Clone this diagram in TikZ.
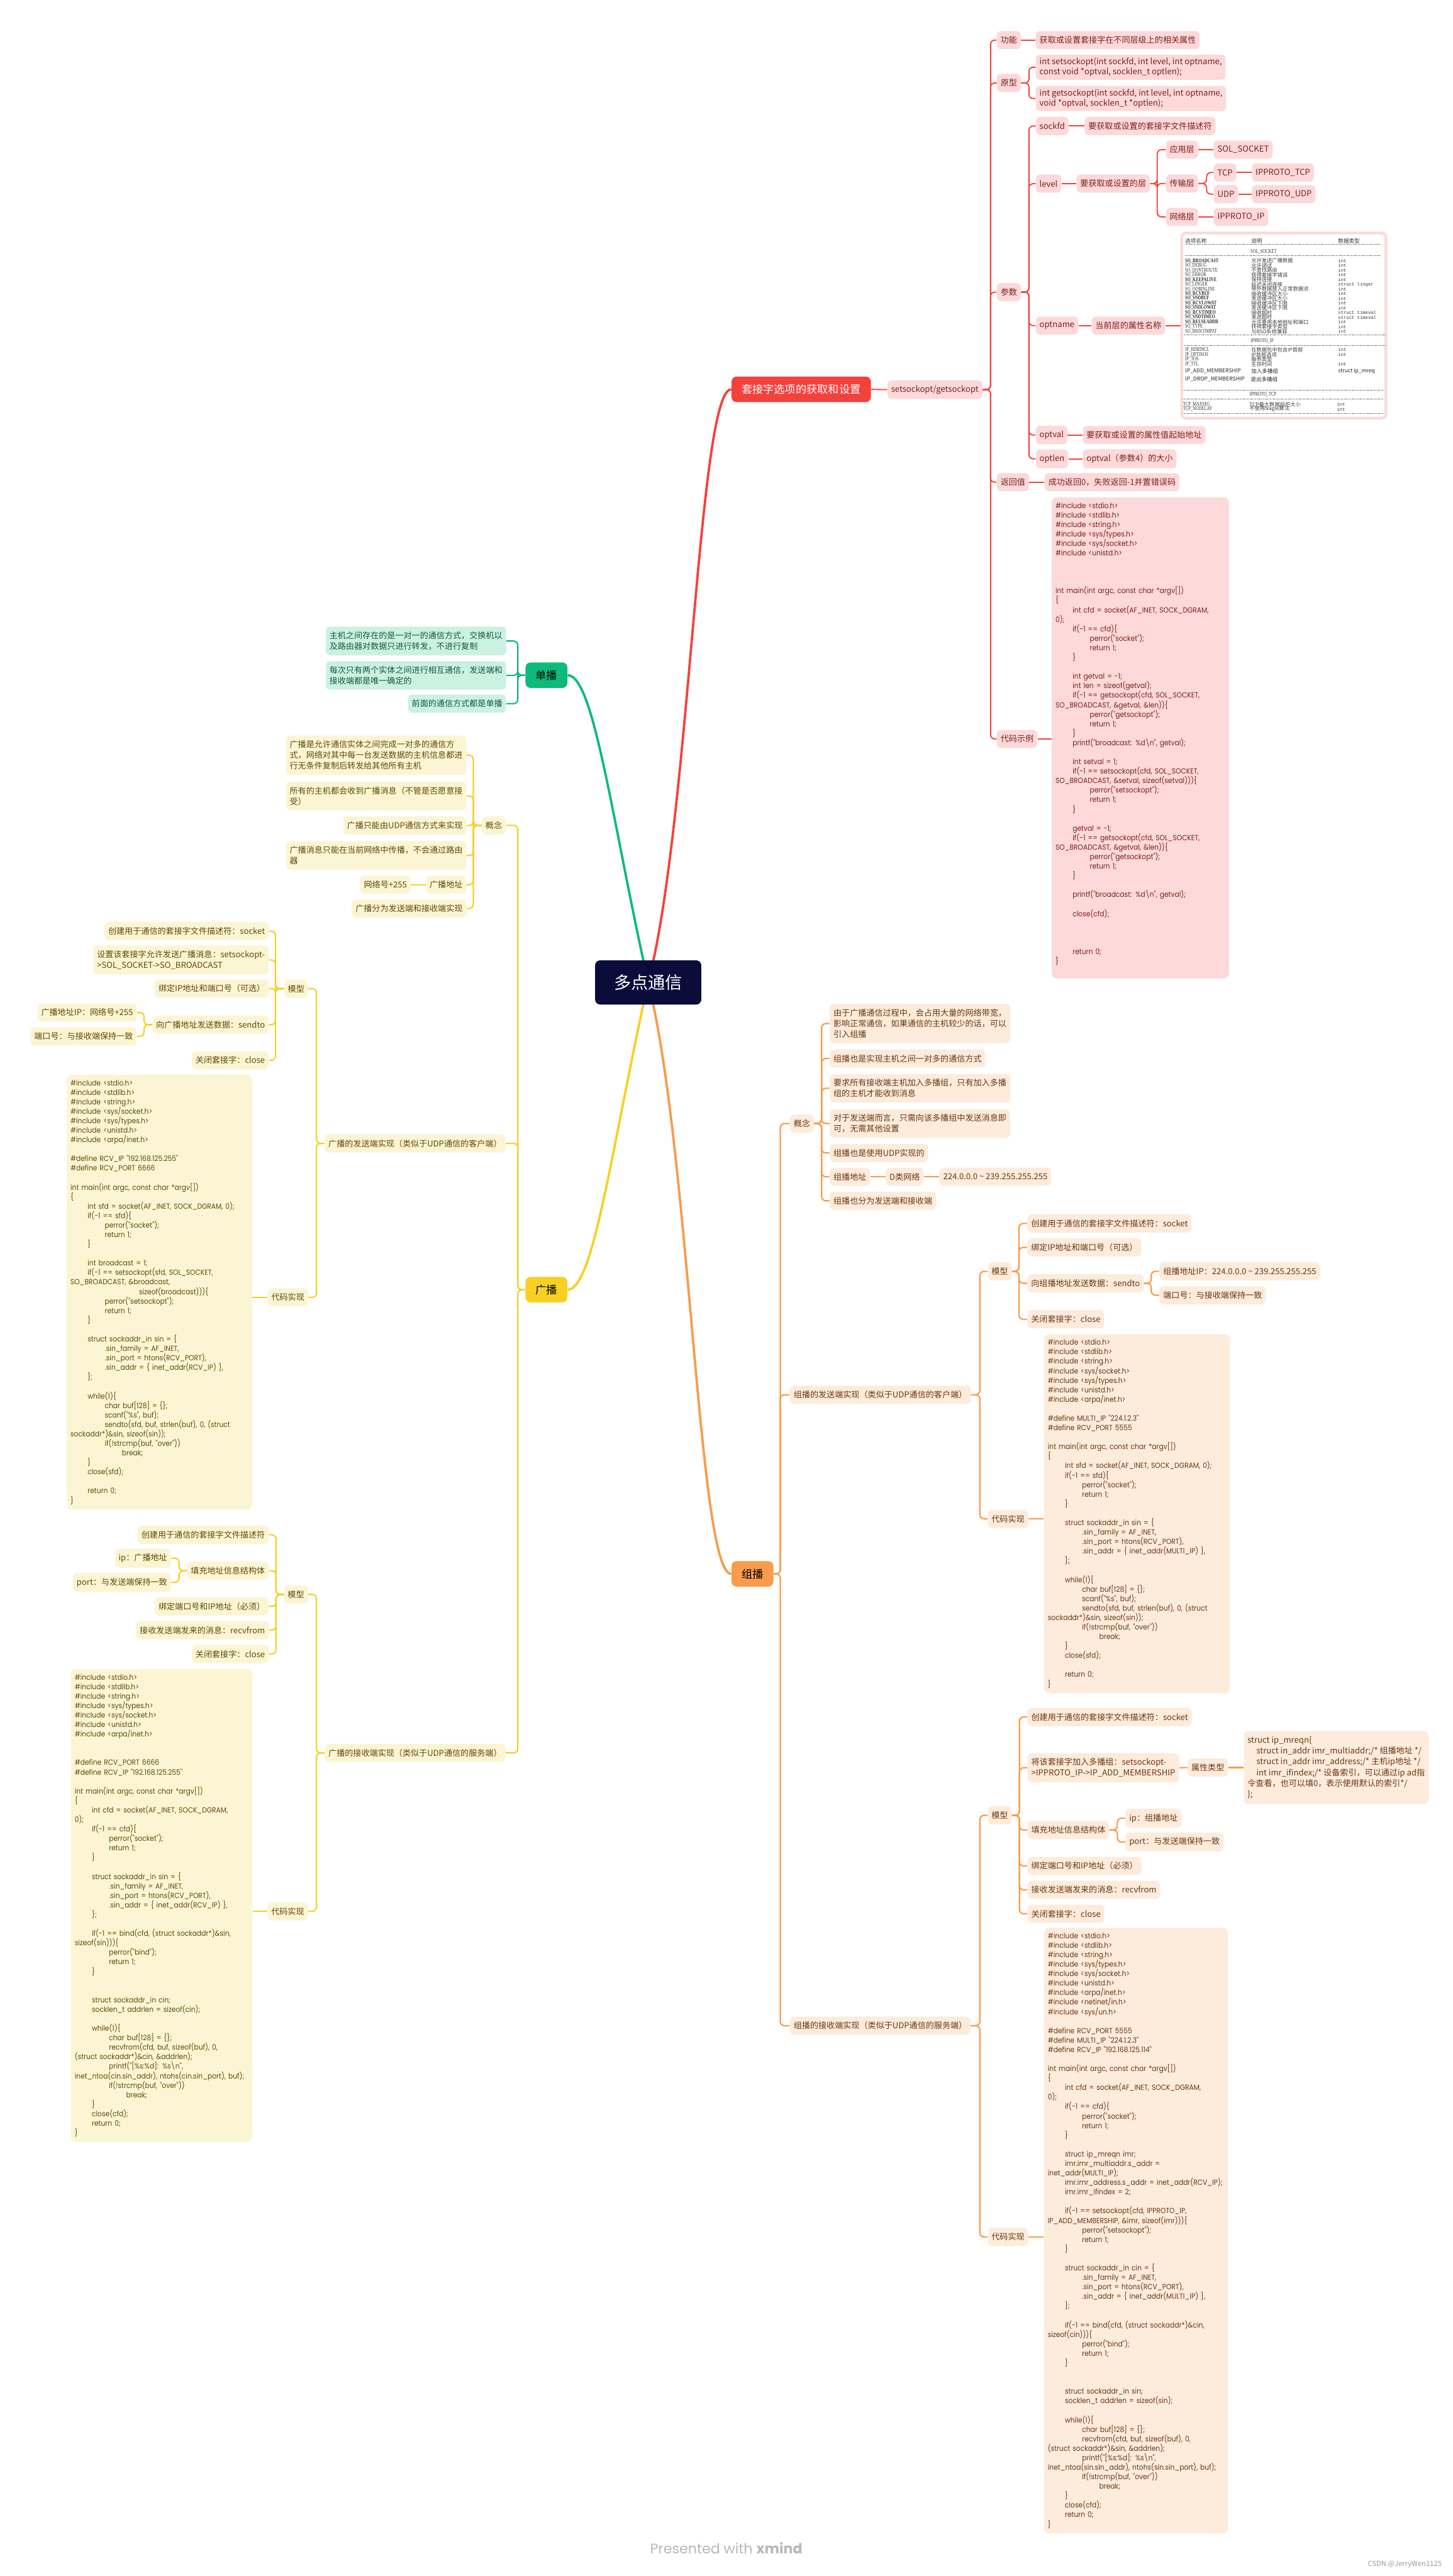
\documentclass[tikz,border=0pt]{standalone}
\usepackage{fontspec}
\setmainfont{Noto Sans CJK SC}
\newfontfamily\codefont{Poppins}[FakeStretch=0.9]
\newfontfamily\creditfont{Poppins}
\newfontfamily\tabserif{Liberation Serif}
\newfontfamily\tabmono{Liberation Mono}
\usepackage{graphicx}
\usepackage{tikz}
\usetikzlibrary{backgrounds}
\definecolor{centerfill}{HTML}{0C0C3A}
\definecolor{redmain}{HTML}{F5413C}
\definecolor{redfill}{HTML}{FDD9D9}
\definecolor{redtext}{HTML}{7A1F1F}
\definecolor{greenmain}{HTML}{0DBA7B}
\definecolor{greenfill}{HTML}{CBF1E2}
\definecolor{greentext}{HTML}{145A3F}
\definecolor{yellowmain}{HTML}{F7D023}
\definecolor{yellowfill}{HTML}{FCF5D3}
\definecolor{yellowtext}{HTML}{5E4A08}
\definecolor{orangemain}{HTML}{F89B4B}
\definecolor{orangefill}{HTML}{FDEBDC}
\definecolor{orangetext}{HTML}{6A3710}

\begin{document}
\begin{tikzpicture}[
    x=0.3437mm, y=-0.3437mm,
    every node/.style={anchor=west},
    centertopic/.style={fill=centerfill, text=white, font=\fontsize{10.2}{12}\selectfont, rounded corners=3pt, inner xsep=11.2pt, minimum height=26.3pt, anchor=center},
    maintopic/.style={font=\fontsize{6.45}{8}\selectfont, rounded corners=3pt, inner xsep=6pt, minimum height=15.2pt},
    leaf/.style={font=\fontsize{4.9}{6.4}\selectfont, rounded corners=2.5pt, inner xsep=2.2pt, inner ysep=3pt, minimum height=10.8pt, align=left},
    redleaf/.style={leaf, fill=redfill, text=redtext},
    greenleaf/.style={leaf, fill=greenfill, text=greentext, anchor=east},
    yellowleaf/.style={leaf, fill=yellowfill, text=yellowtext, anchor=east},
    orangeleaf/.style={leaf, fill=orangefill, text=orangetext},
    codebox/.style={font=\codefont\fontsize{4.45}{5.65}\selectfont, rounded corners=3pt, inner xsep=2.24pt, inner ysep=3pt, align=left, anchor=north west},
    redwire/.style={draw=redmain, line width=0.7pt, rounded corners=2.5pt},
    greenwire/.style={draw=greenmain, line width=0.8pt, rounded corners=2.5pt},
    yellowwire/.style={draw=yellowmain, line width=0.8pt, rounded corners=2.5pt},
    orangewire/.style={draw=orangemain, line width=0.8pt, rounded corners=2.5pt},
    mainwire/.style={line width=1.4pt},
    tabhead/.style={inner sep=0pt, font=\fontsize{3.2}{3.2}\selectfont, text=black!80},
    tabname/.style={inner sep=0pt, font=\tabserif\fontsize{3.4}{3.4}\selectfont, text=black!80},
    tabdesc/.style={inner sep=0pt, font=\fontsize{3.1}{3.1}\selectfont, text=black!75},
    tabtype/.style={inner sep=0pt, font=\tabmono\fontsize{2.7}{2.7}\selectfont, text=black!80},
    tabsans/.style={inner sep=0pt, font=\fontsize{3.2}{3.2}\selectfont, text=black!85},
    tabeq/.style={draw=black!55, line width=0.15pt, double, double distance=0.3pt, dash pattern=on 0.6pt off 0.3pt},
    tabdash/.style={draw=black!55, line width=0.2pt, dash pattern=on 0.6pt off 0.3pt}
]

\def\tb{\hspace*{10.2pt}}

\useasboundingbox (0,0) rectangle (884,1568);

% Root
\node[centertopic] (multi) at (394.5,598) {多点通信};

% Main topics
\node[maintopic, fill=redmain, text=white] (sockopt) at (445,237) {套接字选项的获取和设置};
\node[maintopic, fill=greenmain, text=black, anchor=east] (unicast) at (345.5,411) {单播};
\node[maintopic, fill=yellowmain, text=black, anchor=east] (bcast) at (345.5,785) {广播};
\node[maintopic, fill=orangemain, text=black] (mcast) at (445,958) {组播};

% Socket options (red)
\node[redleaf] (setget) at (539.9,237.2) {setsockopt/getsockopt};
\node[redleaf] (func) at (606.5,24.4) {功能};
\node[redleaf] (funcd) at (630.2,24.4) {获取或设置套接字在不同层级上的相关属性};
\node[redleaf] (proto) at (606.5,50.5) {原型};
\node[redleaf, font=\fontsize{4.9}{5.8}\selectfont, inner ysep=2pt] (protoset) at (630.2,40.9) {int setsockopt(int sockfd, int level, int optname,\\const void *optval, socklen\_t optlen);};
\node[redleaf, font=\fontsize{4.9}{5.8}\selectfont, inner ysep=2pt] (protoget) at (630.2,60) {int getsockopt(int sockfd, int level, int optname,\\void *optval, socklen\_t *optlen);};
\node[redleaf] (param) at (606.5,177.8) {参数};
\node[redleaf] (psockfd) at (630.2,76.7) {sockfd};
\node[redleaf] (psockfdd) at (659.9,76.7) {要获取或设置的套接字文件描述符};
\node[redleaf] (plevel) at (630.2,111.8) {level};
\node[redleaf] (pleveld) at (655,111.8) {要获取或设置的层};
\node[redleaf] (lapp) at (709.4,91.1) {应用层};
\node[redleaf] (lappv) at (738.5,91.1) {SOL\_SOCKET};
\node[redleaf] (ltrans) at (709.4,111.7) {传输层};
\node[redleaf] (ltcp) at (738.5,105) {TCP};
\node[redleaf] (ltcpv) at (761.7,105) {IPPROTO\_TCP};
\node[redleaf] (ludp) at (738.5,118.2) {UDP};
\node[redleaf] (ludpv) at (761.7,118.2) {IPPROTO\_UDP};
\node[redleaf] (lnet) at (709.4,132) {网络层};
\node[redleaf] (lnetv) at (738.5,132) {IPPROTO\_IP};
\node[redleaf] (poptname) at (630.2,198.2) {optname};
\node[redleaf] (poptnamed) at (664.2,198.2) {当前层的属性名称};
\node[redleaf] (poptval) at (630.2,264.8) {optval};
\node[redleaf] (poptvald) at (658.8,264.8) {要获取或设置的属性值起始地址};
\node[redleaf] (poptlen) at (630.2,279.3) {optlen};
\node[redleaf] (poptlend) at (658.8,279.3) {optval（参数4）的大小};
\node[redleaf] (ret) at (606.5,293.5) {返回值};
\node[redleaf] (retd) at (635.6,293.5) {成功返回0，失败返回-1并置错误码};
\node[redleaf] (demo) at (606.5,449.8) {代码示例};

% Option table
\node[draw=redfill, line width=1.6pt, fill=white, rounded corners=2.5pt, minimum width=121.5pt, minimum height=110.2pt, inner sep=0pt] (opttab) at (718.4,198.2) {};
\node[tabhead] (thname) at (721.1,146.9) {选项名称};
\node[tabhead] (thdesc) at (761.3,146.9) {说明};
\node[tabhead] (thtype) at (814.2,146.9) {数据类型};
\draw[tabeq] (721.1,148.9) -- (840.4,148.9);
\node[tabname] (thsol) at (760.9,153) {\scalebox{.72}[1]{SOL\_SOCKET}};
\draw[tabdash] (721.1,155.4) -- (840.4,155.4);
\foreach \nm/\ds/\ty [count=\i from 0] in {
    {\bfseries SO\_BROADCAST}/允许发送广播数据/int,
    SO\_DEBUG/允许调试/int,
    SO\_DONTROUTE/不查找路由/int,
    SO\_ERROR/获得套接字错误/int,
    {\bfseries SO\_KEEPALIVE}/保持连接/int,
    SO\_LINGER/延迟关闭连接/struct linger,
    SO\_OOBINLINE/带外数据放入正常数据流/int,
    {\bfseries SO\_RCVBUF}/接收缓冲区大小/int,
    {\bfseries SO\_SNDBUF}/发送缓冲区大小/int,
    {\bfseries SO\_RCVLOWAT}/接收缓冲区下限/int,
    {\bfseries SO\_SNDLOWAT}/发送缓冲区下限/int,
    {\bfseries SO\_RCVTIMEO}/接收超时/struct timeval,
    {\bfseries SO\_SNDTIMEO}/发送超时/struct timeval,
    {\bfseries SO\_REUSEADDR}/允许重用本地地址和端口/int,
    SO\_TYPE/获得套接字类型/int,
    SO\_BSDCOMPAT/与BSD系统兼容/int}
{
    \node[tabname] (soln\i) at (721.1,158.8+2.86*\i) {\scalebox{.72}[1]{\nm}};
    \node[tabdesc] (sold\i) at (761.3,158.8+2.86*\i) {\ds};
    \node[tabtype] (solt\i) at (814.2,158.8+2.86*\i) {\ty};
}
\draw[tabeq] (720.5,204) -- (843,204);
\node[tabname] (thip) at (761,207.4) {\scalebox{.72}[1]{IPPROTO\_IP}};
\draw[tabdash] (720.5,210.2) -- (843,210.2);
\foreach \nm/\ds/\ty [count=\i from 0] in {
    IP\_HDRINCL/在数据包中包含IP首部/int,
    IP\_OPTINOS/IP首部选项/int,
    IP\_TOS/服务类型/{},
    IP\_TTL/生存时间/int}
{
    \node[tabname] (ipn\i) at (721.1,213+2.87*\i) {\scalebox{.72}[1]{\nm}};
    \node[tabdesc] (ipd\i) at (761.3,213+2.87*\i) {\ds};
    \node[tabtype] (ipt\i) at (814.2,213+2.87*\i) {\ty};
}
\node[tabsans] (ipaddn) at (721.1,226) {IP\_ADD\_MEMBERSHIP};
\node[tabsans] (ipaddd) at (761.3,226) {加入多播组};
\node[tabsans] (ipaddt) at (814.2,226) {struct ip\_mreq};
\node[tabsans] (ipdropn) at (721.1,230.8) {IP\_DROP\_MEMBERSHIP};
\node[tabsans] (ipdropd) at (761,230.8) {退出多播组};
\draw[tabeq] (719.6,237.3) -- (842,237.3);
\node[tabname] (thtcp) at (760.3,240.2) {\scalebox{.72}[1]{IPPROTO\_TCP}};
\draw[tabdash] (719.6,242.9) -- (842,242.9);
\foreach \nm/\ds/\ty [count=\i from 0] in {
    TCP\_MAXSEG/TCP最大数据段的大小/int,
    TCP\_NODELAY/不使用Nagle算法/int}
{
    \node[tabname] (tcpn\i) at (719.9,246.1+2.9*\i) {\scalebox{.72}[1]{\nm}};
    \node[tabdesc] (tcpd\i) at (760.2,246.1+2.9*\i) {\ds};
    \node[tabtype] (tcpt\i) at (813.5,246.1+2.9*\i) {\ty};
}
\draw[tabeq] (719.6,251.9) -- (842,251.9);

% Code sample (red)
\node[codebox, fill=redfill, text=redtext, text width=101pt] (democode) at (639.9,302.6) {%
\#include <stdio.h>\\
\#include <stdlib.h>\\
\#include <string.h>\\
\#include <sys/types.h>\\
\#include <sys/socket.h>\\
\#include <unistd.h>\\
\mbox{}\\
\mbox{}\\
\mbox{}\\
int main(int argc, const char *argv[])\\
\{\\
\tb int cfd = socket(AF\_INET, SOCK\_DGRAM,\\
0);\\
\tb if(-1 == cfd)\{\\
\tb\tb perror("socket");\\
\tb\tb return 1;\\
\tb\}\\
\mbox{}\\
\tb int getval = -1;\\
\tb int len = sizeof(getval);\\
\tb if(-1 == getsockopt(cfd, SOL\_SOCKET,\\
SO\_BROADCAST, \&getval, \&len))\{\\
\tb\tb perror("getsockopt");\\
\tb\tb return 1;\\
\tb\}\\
\tb printf("broadcast: \%d\textbackslash n", getval);\\
\mbox{}\\
\tb int setval = 1;\\
\tb if(-1 == setsockopt(cfd, SOL\_SOCKET,\\
SO\_BROADCAST, \&setval, sizeof(setval)))\{\\
\tb\tb perror("setsockopt");\\
\tb\tb return 1;\\
\tb\}\\
\mbox{}\\
\tb getval = -1;\\
\tb if(-1 == getsockopt(cfd, SOL\_SOCKET,\\
SO\_BROADCAST, \&getval, \&len))\{\\
\tb\tb perror("getsockopt");\\
\tb\tb return 1;\\
\tb\}\\
\mbox{}\\
\tb printf("broadcast: \%d\textbackslash n", getval);\\
\mbox{}\\
\tb close(cfd);\\
\mbox{}\\
\mbox{}\\
\mbox{}\\
\tb return 0;\\
\}\\
\mbox{}};

% Unicast (green)
\node[greenleaf] (uni1) at (308.2,390.2) {主机之间存在的是一对一的通信方式，交换机以\\及路由器对数据只进行转发，不进行复制};
\node[greenleaf] (uni2) at (308.2,411.1) {每次只有两个实体之间进行相互通信，发送端和\\接收端都是唯一确定的};
\node[greenleaf] (uni3) at (308.2,428.3) {前面的通信方式都是单播};

% Broadcast (yellow)
\node[yellowleaf] (bconcept) at (308,502.4) {概念};
\node[yellowleaf] (bc1) at (284,459.7) {广播是允许通信实体之间完成一对多的通信方\\式，网络对其中每一台发送数据的主机信息都进\\行无条件复制后转发给其他所有主机};
\node[yellowleaf] (bc2) at (284,484.5) {所有的主机都会收到广播消息（不管是否愿意接\\受）};
\node[yellowleaf] (bc3) at (284,502.5) {广播只能由UDP通信方式来实现};
\node[yellowleaf] (bc4) at (284,520.7) {广播消息只能在当前网络中传播，不会通过路由\\器};
\node[yellowleaf] (bc5) at (284,538.5) {广播地址};
\node[yellowleaf] (bc5v) at (250.1,538.5) {网络号+255};
\node[yellowleaf] (bc6) at (284,553) {广播分为发送端和接收端实现};

\node[yellowleaf] (bsend) at (307.8,696) {广播的发送端实现（类似于UDP通信的客户端）};
\node[yellowleaf] (bsmodel) at (187.7,601.8) {模型};
\node[yellowleaf] (bsm1) at (163.7,566.8) {创建用于通信的套接字文件描述符：socket};
\node[yellowleaf] (bsm2) at (163.7,584.3) {设置该套接字允许发送广播消息：setsockopt-\\>SOL\_SOCKET->SO\_BROADCAST};
\node[yellowleaf] (bsm3) at (163.7,601.7) {绑定IP地址和端口号（可选）};
\node[yellowleaf] (bsm4) at (163.7,623.7) {向广播地址发送数据：sendto};
\node[yellowleaf] (bsm4a) at (83.4,616.3) {广播地址IP：网络号+255};
\node[yellowleaf] (bsm4b) at (83.4,630.8) {端口号：与接收端保持一致};
\node[yellowleaf] (bsm5) at (163.7,645.4) {关闭套接字：close};
\node[yellowleaf] (bscode) at (187.7,789.7) {代码实现};
\node[codebox, fill=yellowfill, text=yellowtext, text width=105.9pt] (bscodebox) at (40.4,654) {%
\#include <stdio.h>\\
\#include <stdlib.h>\\
\#include <string.h>\\
\#include <sys/socket.h>\\
\#include <sys/types.h>\\
\#include <unistd.h>\\
\#include <arpa/inet.h>\\
\mbox{}\\
\#define RCV\_IP "192.168.125.255"\\
\#define RCV\_PORT 6666\\
\mbox{}\\
int main(int argc, const char *argv[])\\
\{\\
\tb int sfd = socket(AF\_INET, SOCK\_DGRAM, 0);\\
\tb if(-1 == sfd)\{\\
\tb\tb perror("socket");\\
\tb\tb return 1;\\
\tb\}\\
\mbox{}\\
\tb int broadcast = 1;\\
\tb if(-1 == setsockopt(sfd, SOL\_SOCKET,\\
SO\_BROADCAST, \&broadcast,\\
\tb\tb\tb\tb sizeof(broadcast)))\{\\
\tb\tb perror("setsockopt");\\
\tb\tb return 1;\\
\tb\}\\
\mbox{}\\
\tb struct sockaddr\_in sin = \{\\
\tb\tb .sin\_family = AF\_INET,\\
\tb\tb .sin\_port = htons(RCV\_PORT),\\
\tb\tb .sin\_addr = \{ inet\_addr(RCV\_IP) \},\\
\tb\};\\
\mbox{}\\
\tb while(1)\{\\
\tb\tb char buf[128] = \{\};\\
\tb\tb scanf("\%s", buf);\\
\tb\tb sendto(sfd, buf, strlen(buf), 0, (struct\\
sockaddr*)\&sin, sizeof(sin));\\
\tb\tb if(!strcmp(buf, "over"))\\
\tb\tb\tb break;\\
\tb\}\\
\tb close(sfd);\\
\mbox{}\\
\tb return 0;\\
\}};

\node[yellowleaf] (brecv) at (307.8,1067) {广播的接收端实现（类似于UDP通信的服务端）};
\node[yellowleaf] (brmodel) at (187.6,970.5) {模型};
\node[yellowleaf] (brm1) at (163.7,934.2) {创建用于通信的套接字文件描述符};
\node[yellowleaf] (brm2) at (163.7,956.1) {填充地址信息结构体};
\node[yellowleaf] (brm2a) at (104.2,948.5) {ip：广播地址};
\node[yellowleaf] (brm2b) at (104.2,963.2) {port：与发送端保持一致};
\node[yellowleaf] (brm3) at (163.7,977.8) {绑定端口号和IP地址（必须）};
\node[yellowleaf] (brm4) at (163.7,992.3) {接收发送端发来的消息：recvfrom};
\node[yellowleaf] (brm5) at (163.7,1006.8) {关闭套接字：close};
\node[yellowleaf] (brcode) at (187.6,1163.4) {代码实现};
\node[codebox, fill=yellowfill, text=yellowtext, text width=103.5pt] (brcodebox) at (43,1015.8) {%
\#include <stdio.h>\\
\#include <stdlib.h>\\
\#include <string.h>\\
\#include <sys/types.h>\\
\#include <sys/socket.h>\\
\#include <unistd.h>\\
\#include <arpa/inet.h>\\
\mbox{}\\
\mbox{}\\
\#define RCV\_PORT 6666\\
\#define RCV\_IP "192.168.125.255"\\
\mbox{}\\
int main(int argc, const char *argv[])\\
\{\\
\tb int cfd = socket(AF\_INET, SOCK\_DGRAM,\\
0);\\
\tb if(-1 == cfd)\{\\
\tb\tb perror("socket");\\
\tb\tb return 1;\\
\tb\}\\
\mbox{}\\
\tb struct sockaddr\_in sin = \{\\
\tb\tb .sin\_family = AF\_INET,\\
\tb\tb .sin\_port = htons(RCV\_PORT),\\
\tb\tb .sin\_addr = \{ inet\_addr(RCV\_IP) \},\\
\tb\};\\
\mbox{}\\
\tb if(-1 == bind(cfd, (struct sockaddr*)\&sin,\\
sizeof(sin)))\{\\
\tb\tb perror("bind");\\
\tb\tb return 1;\\
\tb\}\\
\mbox{}\\
\mbox{}\\
\tb struct sockaddr\_in cin;\\
\tb socklen\_t addrlen = sizeof(cin);\\
\mbox{}\\
\tb while(1)\{\\
\tb\tb char buf[128] = \{\};\\
\tb\tb recvfrom(cfd, buf, sizeof(buf), 0,\\
(struct sockaddr*)\&cin, \&addrlen);\\
\tb\tb printf("[\%s:\%d]: \%s\textbackslash n",\\
inet\_ntoa(cin.sin\_addr), ntohs(cin.sin\_port), buf);\\
\tb\tb if(!strcmp(buf, "over"))\\
\tb\tb\tb break;\\
\tb\}\\
\tb close(cfd);\\
\tb return 0;\\
\}};

% Multicast (orange)
\node[orangeleaf] (mconcept) at (480.6,683.9) {概念};
\node[orangeleaf] (mc1) at (504.8,623) {由于广播通信过程中，会占用大量的网络带宽，\\影响正常通信，如果通信的主机较少的话，可以\\引入组播};
\node[orangeleaf] (mc2) at (504.8,644.3) {组播也是实现主机之间一对多的通信方式};
\node[orangeleaf] (mc3) at (504.8,662.4) {要求所有接收端主机加入多播组，只有加入多播\\组的主机才能收到消息};
\node[orangeleaf] (mc4) at (504.8,683.9) {对于发送端而言，只需向该多播组中发送消息即\\可，无需其他设置};
\node[orangeleaf] (mc5) at (504.8,701.8) {组播也是使用UDP实现的};
\node[orangeleaf] (mc6) at (504.8,716.3) {组播地址};
\node[orangeleaf] (mc6a) at (538.9,716.3) {D类网络};
\node[orangeleaf] (mc6b) at (571.6,716.3) {224.0.0.0 \textasciitilde{} 239.255.255.255};
\node[orangeleaf] (mc7) at (504.8,730.9) {组播也分为发送端和接收端};

\node[orangeleaf] (msend) at (480.6,849) {组播的发送端实现（类似于UDP通信的客户端）};
\node[orangeleaf] (msmodel) at (601,773.9) {模型};
\node[orangeleaf] (msm1) at (625.1,744.7) {创建用于通信的套接字文件描述符：socket};
\node[orangeleaf] (msm2) at (625.1,759.3) {绑定IP地址和端口号（可选）};
\node[orangeleaf] (msm3) at (625.1,781.1) {向组播地址发送数据：sendto};
\node[orangeleaf] (msm3a) at (705.5,773.8) {组播地址IP：224.0.0.0 \textasciitilde{} 239.255.255.255};
\node[orangeleaf] (msm3b) at (705.5,788.4) {端口号：与接收端保持一致};
\node[orangeleaf] (msm4) at (625.1,803) {关闭套接字：close};
\node[orangeleaf] (mscode) at (601,924.5) {代码实现};
\node[codebox, fill=orangefill, text=orangetext, text width=106.1pt] (mscodebox) at (635.2,812) {%
\#include <stdio.h>\\
\#include <stdlib.h>\\
\#include <string.h>\\
\#include <sys/socket.h>\\
\#include <sys/types.h>\\
\#include <unistd.h>\\
\#include <arpa/inet.h>\\
\mbox{}\\
\#define MULTI\_IP "224.1.2.3"\\
\#define RCV\_PORT 5555\\
\mbox{}\\
int main(int argc, const char *argv[])\\
\{\\
\tb int sfd = socket(AF\_INET, SOCK\_DGRAM, 0);\\
\tb if(-1 == sfd)\{\\
\tb\tb perror("socket");\\
\tb\tb return 1;\\
\tb\}\\
\mbox{}\\
\tb struct sockaddr\_in sin = \{\\
\tb\tb .sin\_family = AF\_INET,\\
\tb\tb .sin\_port = htons(RCV\_PORT),\\
\tb\tb .sin\_addr = \{ inet\_addr(MULTI\_IP) \},\\
\tb\};\\
\mbox{}\\
\tb while(1)\{\\
\tb\tb char buf[128] = \{\};\\
\tb\tb scanf("\%s", buf);\\
\tb\tb sendto(sfd, buf, strlen(buf), 0, (struct\\
sockaddr*)\&sin, sizeof(sin));\\
\tb\tb if(!strcmp(buf, "over"))\\
\tb\tb\tb break;\\
\tb\}\\
\tb close(sfd);\\
\mbox{}\\
\tb return 0;\\
\}};

\node[orangeleaf] (mrecv) at (480.6,1233) {组播的接收端实现（类似于UDP通信的服务端）};
\node[orangeleaf] (mrmodel) at (601,1105) {模型};
\node[orangeleaf] (mrm1) at (625.2,1045.1) {创建用于通信的套接字文件描述符：socket};
\node[orangeleaf] (mrm2) at (625.2,1076) {将该套接字加入多播组：setsockopt-\\>IPPROTO\_IP->IP\_ADD\_MEMBERSHIP};
\node[orangeleaf] (mrm2a) at (722.6,1075.9) {属性类型};
\node[orangeleaf, font=\fontsize{4.9}{6.5}\selectfont] (mrm2b) at (756.8,1075.9) {struct ip\_mreqn\{\\
\hspace*{5.3pt}struct in\_addr imr\_multiaddr;/* 组播地址 */\\
\hspace*{5.3pt}struct in\_addr imr\_address;/* 主机ip地址 */\\
\hspace*{5.3pt}int imr\_ifindex;/* 设备索引，可以通过ip ad指\\
令查看，也可以填0，表示使用默认的索引*/\\
\};};
\node[orangeleaf] (mrm3) at (625.2,1113.9) {填充地址信息结构体};
\node[orangeleaf] (mrm3a) at (684.8,1106.7) {ip：组播地址};
\node[orangeleaf] (mrm3b) at (684.8,1121.2) {port：与发送端保持一致};
\node[orangeleaf] (mrm4) at (625.2,1135.8) {绑定端口号和IP地址（必须）};
\node[orangeleaf] (mrm5) at (625.2,1150.3) {接收发送端发来的消息：recvfrom};
\node[orangeleaf] (mrm6) at (625.2,1164.9) {关闭套接字：close};
\node[orangeleaf] (mrcode) at (601,1361.6) {代码实现};
\node[codebox, fill=orangefill, text=orangetext, text width=105pt] (mrcodebox) at (635.2,1173.2) {%
\#include <stdio.h>\\
\#include <stdlib.h>\\
\#include <string.h>\\
\#include <sys/types.h>\\
\#include <sys/socket.h>\\
\#include <unistd.h>\\
\#include <arpa/inet.h>\\
\#include <netinet/in.h>\\
\#include <sys/un.h>\\
\mbox{}\\
\#define RCV\_PORT 5555\\
\#define MULTI\_IP "224.1.2.3"\\
\#define RCV\_IP "192.168.125.114"\\
\mbox{}\\
int main(int argc, const char *argv[])\\
\{\\
\tb int cfd = socket(AF\_INET, SOCK\_DGRAM,\\
0);\\
\tb if(-1 == cfd)\{\\
\tb\tb perror("socket");\\
\tb\tb return 1;\\
\tb\}\\
\mbox{}\\
\tb struct ip\_mreqn imr;\\
\tb imr.imr\_multiaddr.s\_addr =\\
inet\_addr(MULTI\_IP);\\
\tb imr.imr\_address.s\_addr = inet\_addr(RCV\_IP);\\
\tb imr.imr\_ifindex = 2;\\
\mbox{}\\
\tb if(-1 == setsockopt(cfd, IPPROTO\_IP,\\
IP\_ADD\_MEMBERSHIP, \&imr, sizeof(imr)))\{\\
\tb\tb perror("setsockopt");\\
\tb\tb return 1;\\
\tb\}\\
\mbox{}\\
\tb struct sockaddr\_in cin = \{\\
\tb\tb .sin\_family = AF\_INET,\\
\tb\tb .sin\_port = htons(RCV\_PORT),\\
\tb\tb .sin\_addr = \{ inet\_addr(MULTI\_IP) \},\\
\tb\};\\
\mbox{}\\
\tb if(-1 == bind(cfd, (struct sockaddr*)\&cin,\\
sizeof(cin)))\{\\
\tb\tb perror("bind");\\
\tb\tb return 1;\\
\tb\}\\
\mbox{}\\
\mbox{}\\
\tb struct sockaddr\_in sin;\\
\tb socklen\_t addrlen = sizeof(sin);\\
\mbox{}\\
\tb while(1)\{\\
\tb\tb char buf[128] = \{\};\\
\tb\tb recvfrom(cfd, buf, sizeof(buf), 0,\\
(struct sockaddr*)\&sin, \&addrlen);\\
\tb\tb printf("[\%s:\%d]: \%s\textbackslash n",\\
inet\_ntoa(sin.sin\_addr), ntohs(sin.sin\_port), buf);\\
\tb\tb if(!strcmp(buf, "over"))\\
\tb\tb\tb break;\\
\tb\}\\
\tb close(cfd);\\
\tb return 0;\\
\}};

% Footer
\node[anchor=center, font=\creditfont\fontsize{8.3}{10}\selectfont, text=black!28] (credit) at (442,1551) {Presented with \textbf{xmind}};
\node[anchor=east, font=\fontsize{4.2}{5}\selectfont, text=black!40] (wmark) at (881,1561) {CSDN @JerryWen1125};

% Root curves
\begin{scope}[on background layer]
\fill[white] (0,0) rectangle (884,1568);
\draw[mainwire, redmain] (multi.center) .. controls +(25.5,-98) and +(-20,0) .. (sockopt.west);
\draw[mainwire, greenmain] (multi.center) .. controls +(-22,-98) and +(16,0) .. (unicast.east);
\draw[mainwire, yellowmain] (multi.center) .. controls +(-22,98) and +(16,0) .. (bcast.east);
\draw[mainwire, orangemain] (multi.center) .. controls +(25.5,102) and +(-20,0) .. (mcast.west);
\end{scope}

% Connecting lines (red)
\draw[redwire] (sockopt.east) -- (setget.west);
\draw[redwire] (setget.east) -- ++(4.8,0) |- (func.west);
\draw[redwire] (setget.east) -- ++(4.8,0) |- (proto.west);
\draw[redwire] (setget.east) -- ++(4.8,0) |- (param.west);
\draw[redwire] (setget.east) -- ++(4.8,0) |- (ret.west);
\draw[redwire] (setget.east) -- ++(4.8,0) |- (demo.west);
\draw[redwire] (func.east) -- (funcd.west);
\draw[redwire] (proto.east) -- ++(4.8,0) |- (protoset.west);
\draw[redwire] (proto.east) -- ++(4.8,0) |- (protoget.west);
\draw[redwire] (param.east) -- ++(4.8,0) |- (psockfd.west);
\draw[redwire] (param.east) -- ++(4.8,0) |- (plevel.west);
\draw[redwire] (param.east) -- ++(4.8,0) |- (poptname.west);
\draw[redwire] (param.east) -- ++(4.8,0) |- (poptval.west);
\draw[redwire] (param.east) -- ++(4.8,0) |- (poptlen.west);
\draw[redwire] (psockfd.east) -- (psockfdd.west);
\draw[redwire] (plevel.east) -- (pleveld.west);
\draw[redwire] (pleveld.east) -- ++(4.3,0) |- (lapp.west);
\draw[redwire] (pleveld.east) -- ++(4.3,0) |- (ltrans.west);
\draw[redwire] (pleveld.east) -- ++(4.3,0) |- (lnet.west);
\draw[redwire] (lapp.east) -- (lappv.west);
\draw[redwire] (ltrans.east) -- ++(5,0) |- (ltcp.west);
\draw[redwire] (ltrans.east) -- ++(5,0) |- (ludp.west);
\draw[redwire] (ltcp.east) -- (ltcpv.west);
\draw[redwire] (ludp.east) -- (ludpv.west);
\draw[redwire] (lnet.east) -- (lnetv.west);
\draw[redwire] (poptname.east) -- (poptnamed.west);
\draw[redwire] (poptnamed.east) -- (opttab.west);
\draw[redwire] (poptval.east) -- (poptvald.west);
\draw[redwire] (poptlen.east) -- (poptlend.west);
\draw[redwire] (ret.east) -- (retd.west);
\draw[redwire] (demo.east) -- (demo.east -| democode.west);

% Connecting lines (green)
\draw[greenwire] (unicast.west) -- ++(-4.5,0) |- (uni1.east);
\draw[greenwire] (unicast.west) -- ++(-4.5,0) |- (uni2.east);
\draw[greenwire] (unicast.west) -- ++(-4.5,0) |- (uni3.east);

% Connecting lines (yellow)
\draw[yellowwire] (bcast.west) -- ++(-4.5,0) |- (bconcept.east);
\draw[yellowwire] (bcast.west) -- ++(-4.5,0) |- (bsend.east);
\draw[yellowwire] (bcast.west) -- ++(-4.5,0) |- (brecv.east);
\draw[yellowwire] (bconcept.west) -- ++(-5,0) |- (bc1.east);
\draw[yellowwire] (bconcept.west) -- ++(-5,0) |- (bc2.east);
\draw[yellowwire] (bconcept.west) -- ++(-5,0) |- (bc3.east);
\draw[yellowwire] (bconcept.west) -- ++(-5,0) |- (bc4.east);
\draw[yellowwire] (bconcept.west) -- ++(-5,0) |- (bc5.east);
\draw[yellowwire] (bconcept.west) -- ++(-5,0) |- (bc6.east);
\draw[yellowwire] (bc5.west) -- (bc5v.east);
\draw[yellowwire] (bsend.west) -- ++(-4.9,0) |- (bsmodel.east);
\draw[yellowwire] (bsend.west) -- ++(-4.9,0) |- (bscode.east);
\draw[yellowwire] (bsmodel.west) -- ++(-5.1,0) |- (bsm1.east);
\draw[yellowwire] (bsmodel.west) -- ++(-5.1,0) |- (bsm2.east);
\draw[yellowwire] (bsmodel.west) -- ++(-5.1,0) |- (bsm3.east);
\draw[yellowwire] (bsmodel.west) -- ++(-5.1,0) |- (bsm4.east);
\draw[yellowwire] (bsmodel.west) -- ++(-5.1,0) |- (bsm5.east);
\draw[yellowwire] (bsm4.west) -- ++(-4.9,0) |- (bsm4a.east);
\draw[yellowwire] (bsm4.west) -- ++(-4.9,0) |- (bsm4b.east);
\draw[yellowwire] (bscode.west) -- (bscode.west -| bscodebox.east);
\draw[yellowwire] (brecv.west) -- ++(-4.9,0) |- (brmodel.east);
\draw[yellowwire] (brecv.west) -- ++(-4.9,0) |- (brcode.east);
\draw[yellowwire] (brmodel.west) -- ++(-4.7,0) |- (brm1.east);
\draw[yellowwire] (brmodel.west) -- ++(-4.7,0) |- (brm2.east);
\draw[yellowwire] (brmodel.west) -- ++(-4.7,0) |- (brm3.east);
\draw[yellowwire] (brmodel.west) -- ++(-4.7,0) |- (brm4.east);
\draw[yellowwire] (brmodel.west) -- ++(-4.7,0) |- (brm5.east);
\draw[yellowwire] (brm2.west) -- ++(-4.7,0) |- (brm2a.east);
\draw[yellowwire] (brm2.west) -- ++(-4.7,0) |- (brm2b.east);
\draw[yellowwire] (brcode.west) -- (brcode.west -| brcodebox.east);

% Connecting lines (orange)
\draw[orangewire] (mcast.east) -- ++(4,0) |- (mconcept.west);
\draw[orangewire] (mcast.east) -- ++(4,0) |- (msend.west);
\draw[orangewire] (mcast.east) -- ++(4,0) |- (mrecv.west);
\draw[orangewire] (mconcept.east) -- ++(4.5,0) |- (mc1.west);
\draw[orangewire] (mconcept.east) -- ++(4.5,0) |- (mc2.west);
\draw[orangewire] (mconcept.east) -- ++(4.5,0) |- (mc3.west);
\draw[orangewire] (mconcept.east) -- ++(4.5,0) |- (mc4.west);
\draw[orangewire] (mconcept.east) -- ++(4.5,0) |- (mc5.west);
\draw[orangewire] (mconcept.east) -- ++(4.5,0) |- (mc6.west);
\draw[orangewire] (mconcept.east) -- ++(4.5,0) |- (mc7.west);
\draw[orangewire] (mc6.east) -- (mc6a.west);
\draw[orangewire] (mc6a.east) -- (mc6b.west);
\draw[orangewire] (msend.east) -- ++(5.4,0) |- (msmodel.west);
\draw[orangewire] (msend.east) -- ++(5.4,0) |- (mscode.west);
\draw[orangewire] (msmodel.east) -- ++(4.2,0) |- (msm1.west);
\draw[orangewire] (msmodel.east) -- ++(4.2,0) |- (msm2.west);
\draw[orangewire] (msmodel.east) -- ++(4.2,0) |- (msm3.west);
\draw[orangewire] (msmodel.east) -- ++(4.2,0) |- (msm4.west);
\draw[orangewire] (msm3.east) -- ++(4.4,0) |- (msm3a.west);
\draw[orangewire] (msm3.east) -- ++(4.4,0) |- (msm3b.west);
\draw[orangewire] (mscode.east) -- (mscode.east -| mscodebox.west);
\draw[orangewire] (mrecv.east) -- ++(5.4,0) |- (mrmodel.west);
\draw[orangewire] (mrecv.east) -- ++(5.4,0) |- (mrcode.west);
\draw[orangewire] (mrmodel.east) -- ++(4.5,0) |- (mrm1.west);
\draw[orangewire] (mrmodel.east) -- ++(4.5,0) |- (mrm2.west);
\draw[orangewire] (mrmodel.east) -- ++(4.5,0) |- (mrm3.west);
\draw[orangewire] (mrmodel.east) -- ++(4.5,0) |- (mrm4.west);
\draw[orangewire] (mrmodel.east) -- ++(4.5,0) |- (mrm5.west);
\draw[orangewire] (mrmodel.east) -- ++(4.5,0) |- (mrm6.west);
\draw[orangewire] (mrm2.east) -- (mrm2a.west);
\draw[orangewire] (mrm2a.east) -- (mrm2b.west);
\draw[orangewire] (mrm3.east) -- ++(4.8,0) |- (mrm3a.west);
\draw[orangewire] (mrm3.east) -- ++(4.8,0) |- (mrm3b.west);
\draw[orangewire] (mrcode.east) -- (mrcode.east -| mrcodebox.west);

\end{tikzpicture}
\end{document}
